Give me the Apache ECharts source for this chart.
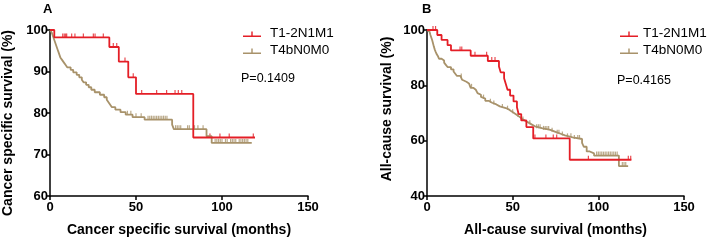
<!DOCTYPE html>
<html>
<head>
<meta charset="utf-8">
<script src="https://cdn.jsdelivr.net/npm/echarts@6/dist/echarts.min.js"></script>
<style>
  html, body { margin: 0; padding: 0; background: #fff; }
  #chart { width: 708px; height: 242px; }
</style>
</head>
<body>
<div id="chart"></div>
<script>
// axis ticks
const xTicks = [0, 50, 100, 150];
const aYTicks = [60, 70, 80, 90, 100];
const bYTicks = [40, 60, 80, 100];

const groupNames = ['T1-2N1M1', 'T4bN0M0'];

// panel A - cancer specific survival (time in months, survival %)
const aRedTime = [0, 2.5, 34.5, 40, 45.5, 50, 83.3, 119.2];
const aRedSurv = [100, 98.2, 95.9, 92.4, 88.6, 84.6, 74.1, 74.1];
const aRedCensor = [7.4, 8.3, 9.1, 9.7, 12.6, 14.5, 19.4, 25.2, 26.2, 31, 36.8, 38.8, 43.6, 48.4,
  53.3, 62, 67.8, 72.7, 74.6, 76.6, 93, 98.8, 104.2, 118.2];

const aTanTime = [0, 1, 1.5, 2, 2.5, 3, 3.5, 4, 4.5, 5, 5.5, 6, 7, 8, 9, 10, 12, 13.5, 15.5, 17, 18.5,
  19.5, 21, 22.5, 24, 26, 29, 31.5, 33, 34, 35, 36, 38, 41, 44, 48, 55, 71, 72, 91, 94, 117.3];
const aTanSurv = [100, 99.4, 98.8, 98.2, 97.6, 97.0, 96.4, 95.8, 95.2, 94.6, 94.0, 93.4, 92.8, 92.2, 91.6,
  91.0, 90.4, 89.8, 89.2, 88.6, 88.0, 87.4, 86.8, 86.2, 85.6, 85.0, 84.4, 83.8, 83.2, 82.6, 82.0, 81.4,
  80.8, 80.2, 79.6, 79.0, 78.4, 77.2, 76.1, 74.4, 72.8, 72.8];
const aTanCensor = [45, 47, 50, 53, 57, 58, 59, 60, 61, 62, 63, 64, 65, 66, 67, 68, 73, 74, 75, 76, 80,
  81, 84, 86, 89, 96, 97, 98, 99, 100, 102, 103, 105, 106, 107, 108, 110, 111, 112, 113, 114, 115];

// panel B - all-cause survival
const bRedTime = [0, 6, 8.5, 12, 14, 25.5, 35.5, 42, 43, 45, 46, 47, 48.5, 50.5, 52.5, 53.5, 55, 58, 62,
  83.3, 119.3];
const bRedSurv = [100, 98.2, 96.4, 94.5, 92.6, 90.7, 88.8, 86.8, 84.7, 82.6, 80.5, 78.4, 76.3, 74.2, 72.1,
  69.6, 67.3, 64.9, 60.8, 53.1, 53.1];
const bRedCensor = [3.5, 5, 19.3, 20.3, 28, 34.8, 37.8, 39.7, 63, 69.4, 73.7, 75.7, 94.2, 117.5, 118.9];

const bTanTime = [0, 1, 1.5, 2, 2.5, 3, 3.5, 4, 4.5, 5, 5.7, 6.5, 7, 8.5, 10, 11, 12, 14, 15.5, 16.5,
  17.5, 19.5, 20.5, 21.5, 23, 24.5, 25.5, 27, 28.5, 29.5, 30.5, 31.5, 32.5, 34, 36, 38, 40.5, 42.5, 46,
  48, 49.5, 51, 52.5, 54, 55.5, 57, 59, 61, 63, 67, 72, 75, 78, 80.5, 85, 90.5, 91.5, 93.2, 95, 97.5,
  112, 117.4];
const bTanSurv = [100, 99.4, 98.8, 98.2, 97.6, 96.4, 95.2, 94.0, 93.0, 92.2, 91.2, 90.4, 89.6, 89.0,
  88.2, 87.4, 86.6, 85.8, 85.0, 84.2, 83.4, 82.8, 82.0, 81.3, 80.7, 80.1, 79.1, 78.4, 77.8, 77.2, 76.6,
  75.8, 75.2, 74.4, 73.7, 73.1, 72.4, 71.8, 71.2, 70.5, 69.9, 69.3, 68.6, 67.9, 67.3, 66.6, 65.9, 65.2,
  64.5, 63.9, 63.2, 62.5, 61.9, 61.2, 60.6, 59.2, 57.8, 56.1, 55.4, 54.6, 50.8, 50.8];
const bTanCensor = [20, 26, 33, 37, 39, 44, 47, 50, 53, 56, 60, 64, 65, 66, 68, 69, 70, 71, 73, 76, 77,
  79, 82, 84, 86, 88, 89, 99, 100, 101, 102, 103, 104, 105, 106, 107, 108, 109, 110, 111, 114, 115, 116];

const pTextA = 'P=0.1409';
const pTextB = 'P=0.4165';

const RED = '#e41e26';
const TAN = '#a8926a';
const FONT = '"Liberation Sans", Arial, sans-serif';

const chart = echarts.init(document.getElementById('chart'));

// survival value at time t from a step function
function survAt(times, surv, t) {
  let v = surv[0];
  for (let i = 0; i < times.length; i++) {
    if (times[i] <= t) v = surv[i];
  }
  return v;
}

function stepSeries(name, times, surv, color, idx) {
  return {
    name: name,
    type: 'line',
    step: 'end',
    xAxisIndex: idx,
    yAxisIndex: idx,
    data: times.map((t, i) => [t, surv[i]]),
    showSymbol: false,
    symbol: 'none',
    lineStyle: { color: color, width: 1.8 },
    itemStyle: { color: color },
    silent: true,
    animation: false,
  };
}

function censorSeries(name, times, surv, censor, color, idx) {
  return {
    name: name + ' censored',
    type: 'scatter',
    xAxisIndex: idx,
    yAxisIndex: idx,
    data: censor.map((t) => [t, survAt(times, surv, t)]),
    symbol: 'rect',
    symbolSize: [1.2, 4],
    symbolOffset: [0, -2],
    itemStyle: { color: color },
    silent: true,
    animation: false,
  };
}

// horizontal line with a small upward tick in the middle
const legendIcon = 'path://M0,0h1v0h-1z M0,6.5h18v1.5h-18z M8.3,2.5h1.4v5h-1.4z';

function makeXAxis(idx, name) {
  return {
    type: 'value',
    gridIndex: idx,
    min: xTicks[0],
    max: xTicks[xTicks.length - 1],
    interval: xTicks[1] - xTicks[0],
    name: name,
    nameLocation: 'middle',
    nameGap: 27,
    nameTextStyle: { color: '#000', fontWeight: 'bold', fontSize: 14, fontFamily: FONT },
    axisLine: { onZero: false, lineStyle: { color: '#000', width: 1.5 } },
    axisTick: { length: 4, lineStyle: { color: '#000', width: 1.5 } },
    axisLabel: { color: '#000', fontWeight: 'bold', fontSize: 13, fontFamily: FONT, margin: 5 },
    splitLine: { show: false },
  };
}

function makeYAxis(idx, ticks) {
  return {
    type: 'value',
    gridIndex: idx,
    min: ticks[0],
    max: ticks[ticks.length - 1],
    interval: ticks[1] - ticks[0],
    axisLine: { onZero: false, lineStyle: { color: '#000', width: 1.5 } },
    axisTick: { length: 4, lineStyle: { color: '#000', width: 1.5 } },
    axisLabel: { color: '#000', fontWeight: 'bold', fontSize: 13, fontFamily: FONT, margin: 2 },
    splitLine: { show: false },
  };
}

function makeLegend(left, textPad) {
  return {
    left: left,
    top: 21,
    orient: 'vertical',
    itemWidth: 18,
    itemHeight: 8,
    itemGap: 3,
    symbolKeepAspect: false,
    selectedMode: false,
    textStyle: { color: '#000', fontSize: 13.5, fontFamily: FONT, padding: [0, 0, 0, textPad] },
    data: groupNames.map((n) => ({ name: n, icon: legendIcon })),
  };
}

const option = {
  backgroundColor: '#fff',
  animation: false,
  grid: [
    { left: 50, top: 30, width: 258, height: 171 },
    { left: 427, top: 30, width: 257, height: 171 },
  ],
  xAxis: [
    makeXAxis(0, 'Cancer specific survival (months)'),
    makeXAxis(1, 'All-cause survival (months)'),
  ],
  yAxis: [makeYAxis(0, aYTicks), makeYAxis(1, bYTicks)],
  legend: [makeLegend(238, 4), makeLegend(615, 0)],
  graphic: [
    { type: 'text', left: 43, top: 3, style: { text: 'A', fontSize: 13, fontWeight: 'bold', fontFamily: FONT, fill: '#000' } },
    { type: 'text', left: 422, top: 3, style: { text: 'B', fontSize: 13, fontWeight: 'bold', fontFamily: FONT, fill: '#000' } },
    { type: 'text', left: 241, top: 72, style: { text: pTextA, fontSize: 12.5, fontFamily: FONT, fill: '#000' } },
    { type: 'text', left: 617, top: 74, style: { text: pTextB, fontSize: 12.5, fontFamily: FONT, fill: '#000' } },
    {
      type: 'text', x: 8, y: 123, rotation: Math.PI / 2,
      style: { text: 'Cancer specific survival (%)', fontSize: 14, fontWeight: 'bold', fontFamily: FONT,
        fill: '#000', align: 'center', verticalAlign: 'middle' },
    },
    {
      type: 'text', x: 387, y: 109, rotation: Math.PI / 2,
      style: { text: 'All-cause survival (%)', fontSize: 14, fontWeight: 'bold', fontFamily: FONT,
        fill: '#000', align: 'center', verticalAlign: 'middle' },
    },
  ],
  series: [
    stepSeries(groupNames[1], aTanTime, aTanSurv, TAN, 0),
    censorSeries(groupNames[1], aTanTime, aTanSurv, aTanCensor, TAN, 0),
    stepSeries(groupNames[0], aRedTime, aRedSurv, RED, 0),
    censorSeries(groupNames[0], aRedTime, aRedSurv, aRedCensor, RED, 0),
    stepSeries(groupNames[1], bTanTime, bTanSurv, TAN, 1),
    censorSeries(groupNames[1], bTanTime, bTanSurv, bTanCensor, TAN, 1),
    stepSeries(groupNames[0], bRedTime, bRedSurv, RED, 1),
    censorSeries(groupNames[0], bRedTime, bRedSurv, bRedCensor, RED, 1),
  ],
};

chart.setOption(option);
</script>
</body>
</html>
